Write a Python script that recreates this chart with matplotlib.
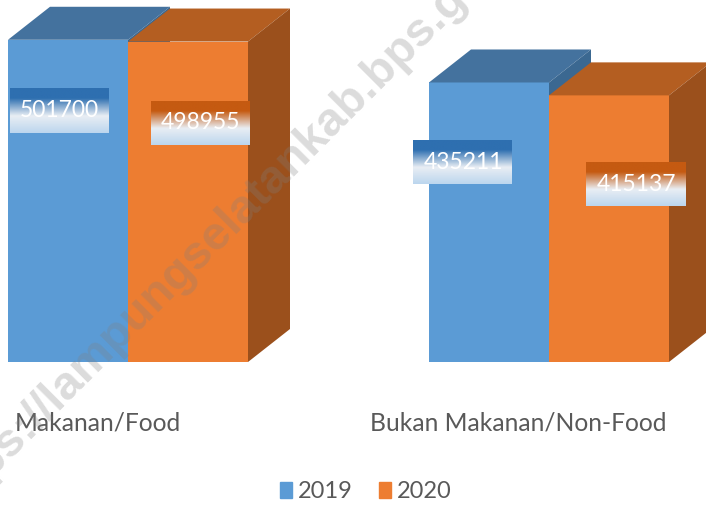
import numpy as np
import matplotlib
matplotlib.use("Agg")
import matplotlib.pyplot as plt
from matplotlib.patches import Polygon, Patch
from matplotlib.colors import LinearSegmentedColormap

# data
categories = ["Makanan/Food", "Bukan Makanan/Non-Food"]
years = ["2019", "2020"]
values_2019 = [501700, 435211]
values_2020 = [498955, 415137]

# colours: front, top, side, label gradient top
blue = ("#5b9bd5", "#44729e", "#3b6891", "#2e6fb0")
orange = ("#ed7d31", "#b45e21", "#9b501c", "#c55a11")
text_grey = "#595959"

# scale: ~1557 value units per pixel, 421 px between groups
py = 1557.0
px = 1.0 / 421
bar_w = 120 * px
depth_x = 42 * px
depth_y = 33 * py

label_font = ["Lato", "DejaVu Sans"]

fig = plt.figure(figsize=(7.06, 5.05), dpi=100)
ax = fig.add_axes([0, 143 / 505, 1, 362 / 505])
ax.set_xlim(-128 * px, (706 - 128) * px)
ax.set_ylim(0, 362 * py)
ax.axis("off")

x = np.arange(len(categories))


def draw_box(ax, left, val, cols, z):
    front, top, side = cols[0], cols[1], cols[2]
    ax.bar(left, val, width=bar_w, align="edge", color=front, zorder=z, linewidth=0)
    top_face = [(left, val), (left + bar_w, val),
                (left + bar_w + depth_x, val + depth_y), (left + depth_x, val + depth_y)]
    side_face = [(left + bar_w, 0), (left + bar_w + depth_x, depth_y),
                 (left + bar_w + depth_x, val + depth_y), (left + bar_w, val)]
    ax.add_patch(Polygon(top_face, closed=True, color=top, zorder=z, linewidth=0, clip_on=False))
    ax.add_patch(Polygon(side_face, closed=True, color=side, zorder=z, linewidth=0, clip_on=False))


def draw_label(ax, cx, cy, text, dark, z):
    cmap = LinearSegmentedColormap.from_list(
        "lbl", [(0, dark), (0.22, dark), (0.62, "#e9eef4"), (1, "#bcd6ee")])
    grad = np.linspace(0, 1, 100).reshape(-1, 1)
    bw, bh = 99 * px, 44 * py
    ax.imshow(grad, cmap=cmap, aspect="auto", origin="upper",
              extent=(cx - bw / 2, cx + bw / 2, cy - bh / 2, cy + bh / 2),
              zorder=z, interpolation="bilinear")
    ax.text(cx, cy, text, color="white", fontsize=16.5, family=label_font,
            ha="center", va="center", zorder=z + 1)


# label placement (pixels below top, pixel shift from bar centre)
lbl_down = [[71, 81], [80, 89]]
lbl_shift = [[-9, 12], [-26, 27]]

for i in range(len(categories)):
    base = 10 * i
    draw_box(ax, x[i] - bar_w, values_2019[i], blue, base + 1)
    draw_box(ax, x[i], values_2020[i], orange, base + 2)

for i in range(len(categories)):
    for j, (vals, cols) in enumerate([(values_2019, blue), (values_2020, orange)]):
        left = x[i] - bar_w + j * bar_w
        cx = left + bar_w / 2 + lbl_shift[i][j] * px
        cy = vals[i] - lbl_down[i][j] * py
        draw_label(ax, cx, cy, str(vals[i]), cols[3], 50)
ax.set_xlim(-128 * px, (706 - 128) * px)
ax.set_ylim(0, 362 * py)

# category labels
cat_x = [98, 518]
for cx, name in zip(cat_x, categories):
    fig.text(cx / 706, 1 - 423 / 505, name, color=text_grey, fontsize=17.7,
             family=label_font, ha="center", va="center")

handles = [Patch(color=blue[0], label=years[0]), Patch(color=orange[0], label=years[1])]
fig.legend(handles=handles, loc="center", bbox_to_anchor=(366 / 706, 1 - 492 / 505),
           ncol=2, frameon=False, prop={"family": label_font, "size": 17},
           labelcolor=text_grey, handlelength=0.5, handleheight=0.64,
           handletextpad=0.25, columnspacing=1.1)

# watermark
fig.text(229 / 706, 1 - 222 / 505, "https://lampungselatankab.bps.go.id",
         rotation=45, fontsize=34, fontweight="bold", color="#808080",
         alpha=0.28, ha="center", va="center", family=["Liberation Sans", "DejaVu Sans"],
         zorder=100)

fig.savefig("out.png", dpi=100)
